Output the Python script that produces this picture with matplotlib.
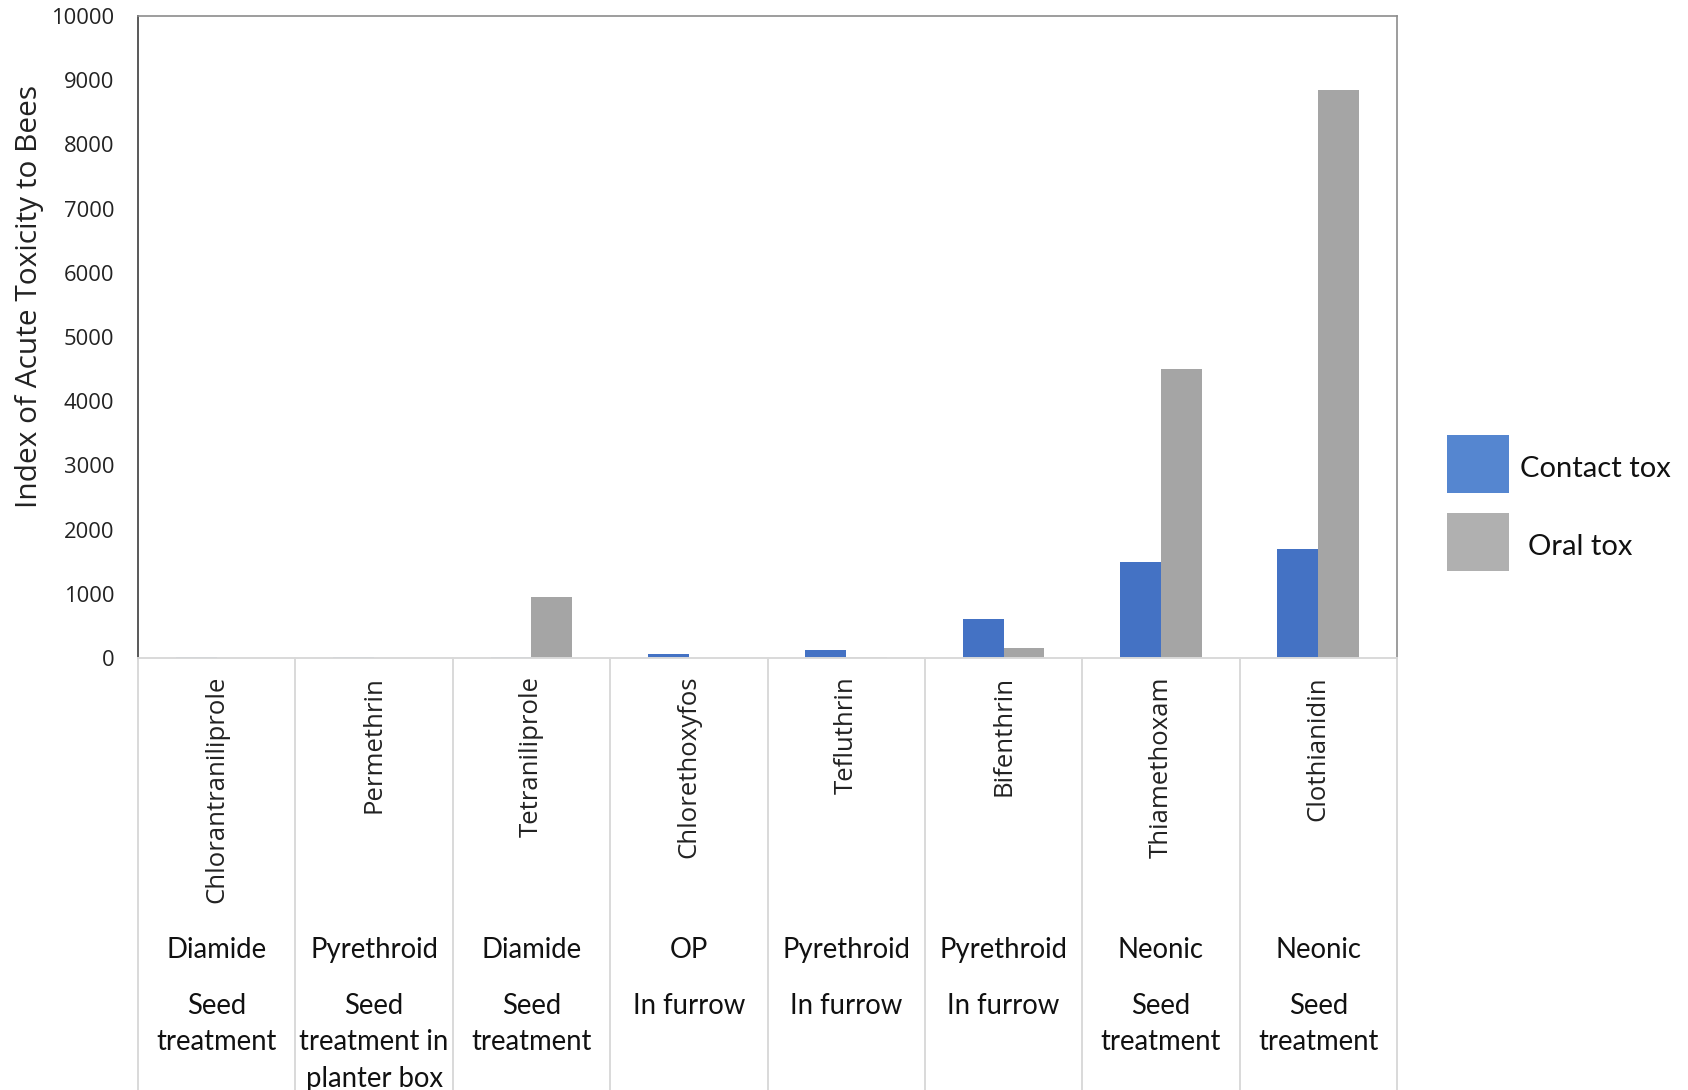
import matplotlib
matplotlib.use("Agg")
import matplotlib.pyplot as plt
import numpy as np
from matplotlib.patches import Rectangle

compounds = ["Chlorantraniliprole", "Permethrin", "Tetraniliprole", "Chlorethoxyfos",
             "Tefluthrin", "Bifenthrin", "Thiamethoxam", "Clothianidin"]
classes = ["Diamide", "Pyrethroid", "Diamide", "OP", "Pyrethroid", "Pyrethroid", "Neonic", "Neonic"]
applications = ["Seed\ntreatment", "Seed\ntreatment in\nplanter box", "Seed\ntreatment",
                "In furrow", "In furrow", "In furrow", "Seed\ntreatment", "Seed\ntreatment"]
contact_tox = [10, 10, 15, 65, 120, 605, 1500, 1700]
oral_tox = [0, 0, 955, 0, 10, 150, 4500, 8850]
series_names = ["Contact tox", "Oral tox"]
yticks = [0, 1000, 2000, 3000, 4000, 5000, 6000, 7000, 8000, 9000, 10000]

BLUE = "#4472C4"
GRAY = "#A5A5A5"

W, Hf = 1688, 1090
fig = plt.figure(figsize=(16.88, 10.90), dpi=100)
ax = fig.add_axes([138/W, 1 - 658/Hf, (1397-138)/W, (658-16)/Hf])

x = np.arange(len(compounds))
w = 0.26
ax.bar(x - w/2, contact_tox, width=w, color=BLUE, zorder=2, label=series_names[0])
ax.bar(x + w/2, oral_tox, width=w, color=GRAY, zorder=2, label=series_names[1])

ax.set_xlim(-0.5, len(compounds) - 0.5)
ax.set_ylim(0, 10000)
ax.set_yticks(yticks)
ax.set_yticklabels([str(t) for t in yticks], fontfamily="Open Sans", fontsize=15.8, color="#222222")
ax.tick_params(axis="y", length=0, pad=17)
ax.set_xticks([])
fig.text(30/W, 1 - 296/Hf, "Index of Acute Toxicity to Bees", rotation=90,
         ha="center", va="center", fontfamily="Open Sans", fontsize=21.5, color="#222222")

for side in ["top", "right"]:
    ax.spines[side].set_color("#8C8C8C")
    ax.spines[side].set_linewidth(1.2)
ax.spines["left"].set_color("#595959")
ax.spines["left"].set_linewidth(1.4)
ax.spines["bottom"].set_color("#D9D9D9")
ax.spines["bottom"].set_linewidth(1.4)

# category separator lines below axis
trans = ax.get_xaxis_transform()
H = 658 - 16
bottom_axes = -(Hf - 658) / H
for b in np.arange(-0.5, len(compounds), 1.0):
    ax.plot([b, b], [0, bottom_axes], transform=trans, color="#D9D9D9", lw=1.4,
            clip_on=False, zorder=1)

# labels
y_name_top = (658 - 676) / H
y_class = (658 - 950) / H
y_app = (658 - 993) / H
for i in range(len(compounds)):
    ax.text(x[i], y_name_top, compounds[i], transform=trans, rotation=90,
            ha="center", va="top", fontfamily="Open Sans", fontsize=18.5, color="#222222")
    ax.text(x[i], y_class, classes[i], transform=trans, ha="center", va="center",
            fontfamily="Lato", fontsize=19.8, color="#111111")
    ax.text(x[i], y_app, applications[i], transform=trans, ha="center", va="top",
            fontfamily="Lato", fontsize=19.8, color="#111111", linespacing=1.5)

# legend (drawn in figure pixel coordinates)
leg_items = [("#5586D0", 435, 493, 1520, 469, series_names[0]),
             ("#B0B0B0", 513, 571, 1528, 547, series_names[1])]
for col, y0, y1, tx, ty, lab in leg_items:
    fig.patches.append(Rectangle((1447/W, 1 - y1/Hf), (1509-1447)/W, (y1-y0)/Hf,
                                 transform=fig.transFigure, facecolor=col, edgecolor="none"))
    fig.text(tx/W, 1 - ty/Hf, lab, ha="left", va="center", fontfamily="Lato",
             fontsize=21, color="#111111")

fig.savefig("out.png", dpi=100, facecolor="white")
